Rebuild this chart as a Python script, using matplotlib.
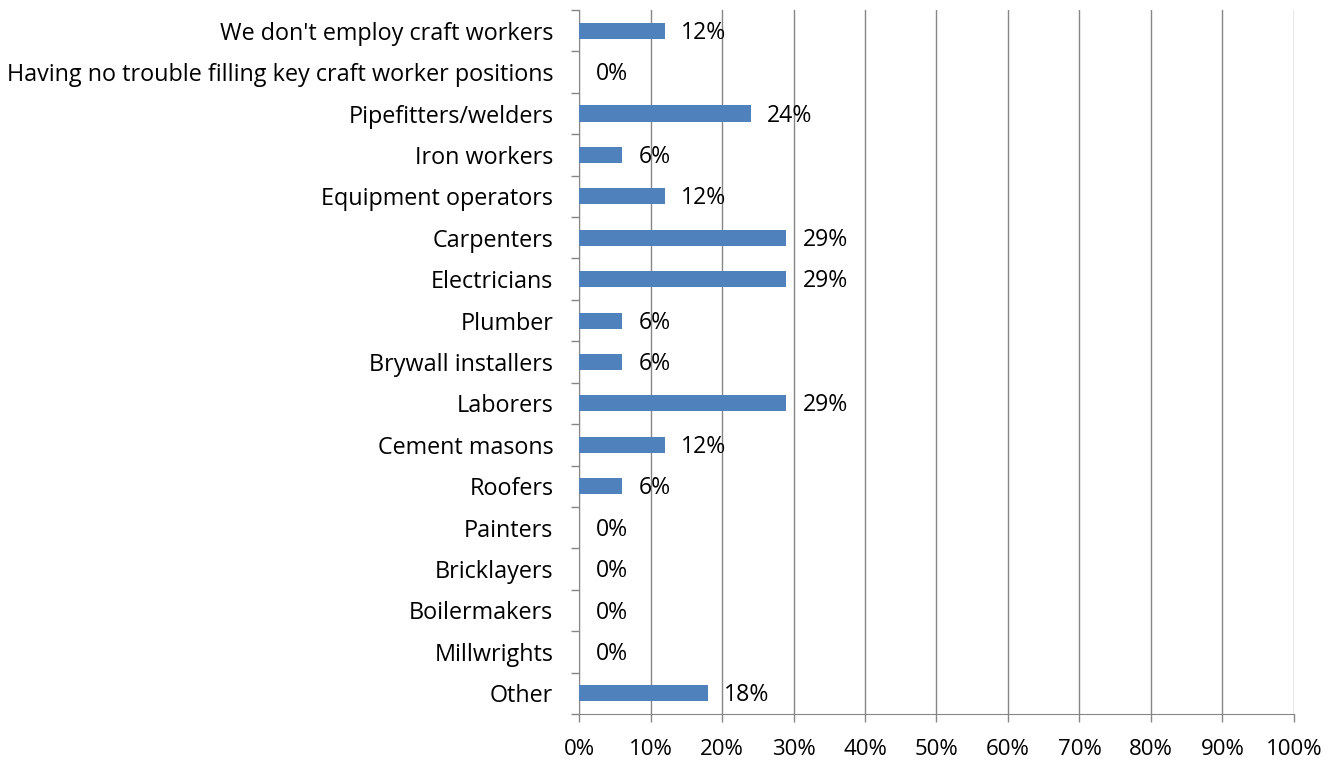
import matplotlib.pyplot as plt
from matplotlib.ticker import MultipleLocator, PercentFormatter, FixedLocator

plt.rcParams['font.family'] = ['Open Sans', 'DejaVu Sans']

categories = [
    "We don't employ craft workers",
    "Having no trouble filling key craft worker positions",
    "Pipefitters/welders",
    "Iron workers",
    "Equipment operators",
    "Carpenters",
    "Electricians",
    "Plumber",
    "Brywall installers",
    "Laborers",
    "Cement masons",
    "Roofers",
    "Painters",
    "Bricklayers",
    "Boilermakers",
    "Millwrights",
    "Other",
]
values = [12, 0, 24, 6, 12, 29, 29, 6, 6, 29, 12, 6, 0, 0, 0, 0, 18]

fig = plt.figure(figsize=(13.36, 7.61), dpi=100)
ax = fig.add_axes([579 / 1336, 1 - 714 / 761, (1294 - 579) / 1336, (714 - 10) / 761])

n = len(categories)
ypos = list(range(n))
ax.barh(ypos, values, height=0.39, color="#4F81BD", zorder=3)
ax.set_ylim(n - 0.5, -0.5)
ax.set_xlim(0, 100)

for y, v in zip(ypos, values):
    ax.text(v + 2.3, y + 0.05, f"{v}%", va="center", ha="left", fontsize=16.6, zorder=4)

ax.set_yticks(ypos)
ax.set_yticklabels(categories, fontsize=16.8)
ax.yaxis.set_minor_locator(FixedLocator([i - 0.5 for i in range(n + 1)]))
ax.tick_params(axis="y", which="major", length=0, pad=18.5)
ax.tick_params(axis="y", which="minor", length=6, color="#868686", width=1)

ax.xaxis.set_major_locator(MultipleLocator(10))
ax.xaxis.set_major_formatter(PercentFormatter(decimals=0))
ax.tick_params(axis="x", length=6, color="#868686", width=1, labelsize=16, pad=12)
ax.grid(axis="x", color="#868686", linewidth=1, zorder=0)

for s in ["top", "right"]:
    ax.spines[s].set_visible(False)
for s in ["left", "bottom"]:
    ax.spines[s].set_color("#868686")

fig.savefig("out.png", dpi=100)
